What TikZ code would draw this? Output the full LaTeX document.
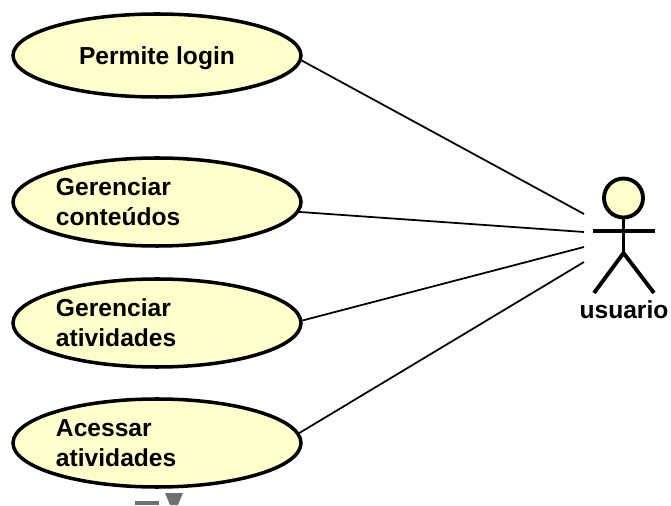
\documentclass[tikz,border=0pt]{standalone}
\usepackage{fontspec}
\setmainfont{Liberation Sans}
\usepackage{tikz}
\usetikzlibrary{shapes.geometric}
\definecolor{casefill}{RGB}{255,255,204}
\definecolor{cutgray}{RGB}{112,112,112}
\tikzset{
	usecase/.style={ellipse,draw,fill=casefill,line width=2pt,inner sep=0pt,minimum width=5.76cm,minimum height=1.66cm,font=\fontsize{14}{17}\bfseries\selectfont},
	twolines/.style={text width=4.04cm,align=left,minimum height=1.76cm},
	assoc/.style={line width=1pt},
	actorline/.style={line width=2.2pt}
}

\begin{document}
\begin{tikzpicture}
	\useasboundingbox (0,0) rectangle (13.42,10.1);
	\node[usecase,text height=13.5pt] (login) at (3.14,8.99) {Permite login};
	\node[usecase,twolines] (conteudos) at (3.14,6.06) {Gerenciar\\conteúdos};
	\node[usecase,twolines] (gerativ) at (3.14,3.64) {Gerenciar\\atividades};
	\node[usecase,twolines] (acesativ) at (3.14,1.24) {Acessar\\atividades};
	\coordinate (endA) at (11.68,5.82);
	\coordinate (endB) at (11.68,5.46);
	\coordinate (endC) at (11.68,5.16);
	\coordinate (endD) at (11.68,4.86);
	\draw[assoc] (login.-2) -- (endA);
	\draw[assoc] (conteudos.-4) -- (endB);
	\draw[assoc] (gerativ.1) -- (endC);
	\draw[assoc] (acesativ.4) -- (endD);
	% actor
	\node[circle,draw,fill=casefill,actorline,inner sep=0pt,minimum size=0.78cm] (head) at (12.47,6.14) {};
	\coordinate (hip) at (12.47,5.04);
	\coordinate (armL) at (11.86,5.48);
	\coordinate (armR) at (13.1,5.48);
	\coordinate (legL) at (11.88,4.24);
	\coordinate (legR) at (13.08,4.24);
	\draw[actorline] (head) -- (hip);
	\draw[actorline] (armL) -- (armR);
	\draw[actorline] (legL) -- (hip) -- (legR);
	\node[font=\fontsize{14}{17}\bfseries\selectfont,inner sep=0pt] (usuario) at (12.48,3.9) {usuario};
	% cut off shapes at the bottom
	\fill[cutgray] (2.7,0) rectangle (3.18,0.08);
	\fill[cutgray] (3.3,0.24) -- (3.66,0.24) -- (3.56,0) -- (3.4,0) -- cycle;
\end{tikzpicture}
\end{document}
